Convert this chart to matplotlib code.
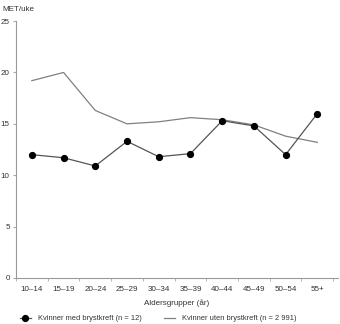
import matplotlib
matplotlib.use("Agg")
import matplotlib.pyplot as plt
import numpy as np
from matplotlib.lines import Line2D

categories = ["10–14", "15–19", "20–24", "25–29", "30–34", "35–39", "40–44", "45–49", "50–54", "55+"]
with_cancer = [12.0, 11.7, 10.9, 13.3, 11.8, 12.1, 15.3, 14.8, 12.0, 16.0]
without_cancer = [19.2, 20.0, 16.3, 15.0, 15.2, 15.6, 15.4, 14.9, 13.8, 13.2]
yticks = [0, 5, 10, 15, 20, 25]

plt.rcParams['font.family'] = ['Liberation Sans', 'DejaVu Sans']
FS = 5.8

fig = plt.figure(figsize=(3.40, 3.24), dpi=100)
ax = fig.add_axes([0.047, 0.142, 0.947, 0.793])

x = np.arange(len(categories))
ax.plot(x, without_cancer, color='#808080', lw=0.9, zorder=2)
ax.plot(x, with_cancer, color='#555555', lw=0.9, marker='o', markersize=4.2,
        markerfacecolor='black', markeredgecolor='black', zorder=3)

ax.set_xlim(-0.5, len(categories) - 0.5 + 0.15)
ax.set_ylim(0, 25)
ax.set_yticks(yticks)
ax.set_xticks(x)
ax.set_xticklabels(categories)
ax.set_xticks(np.arange(-0.5, len(categories), 1.0), minor=True)
ax.tick_params(axis='x', which='major', length=0, labelsize=FS, pad=6, labelcolor='#333333')
ax.tick_params(axis='x', which='minor', length=2.5, color='#aaaaaa', direction='out')
ax.tick_params(axis='y', labelsize=FS, length=2.5, color='#aaaaaa', pad=2, labelcolor='#333333')

for s in ['top', 'right']:
    ax.spines[s].set_visible(False)
for s in ['left', 'bottom']:
    ax.spines[s].set_color('#999999')
    ax.spines[s].set_linewidth(0.8)

ax.set_xlabel("Aldersgrupper (år)", fontsize=FS, color='#333333')
ax.xaxis.set_label_coords(0.5, -0.082)
fig.text(0.006, 0.982, "MET/uke", fontsize=FS, color='#333333', va='top', ha='left')

h1 = Line2D([], [], color='#555555', lw=0.9, marker='o', markersize=4.2,
            markerfacecolor='black', markeredgecolor='black')
h2 = Line2D([], [], color='#808080', lw=0.9)
fig.legend([h1, h2], ["Kvinner med brystkreft (n = 12)", "Kvinner uten brystkreft (n = 2 991)"],
           loc='center', bbox_to_anchor=(0.465, 0.016), ncol=2, frameon=False,
           fontsize=5.4, handlelength=1.5, columnspacing=3.0, handletextpad=0.9,
           labelcolor='#333333', borderpad=0)

fig.savefig("out.png", dpi=100)
